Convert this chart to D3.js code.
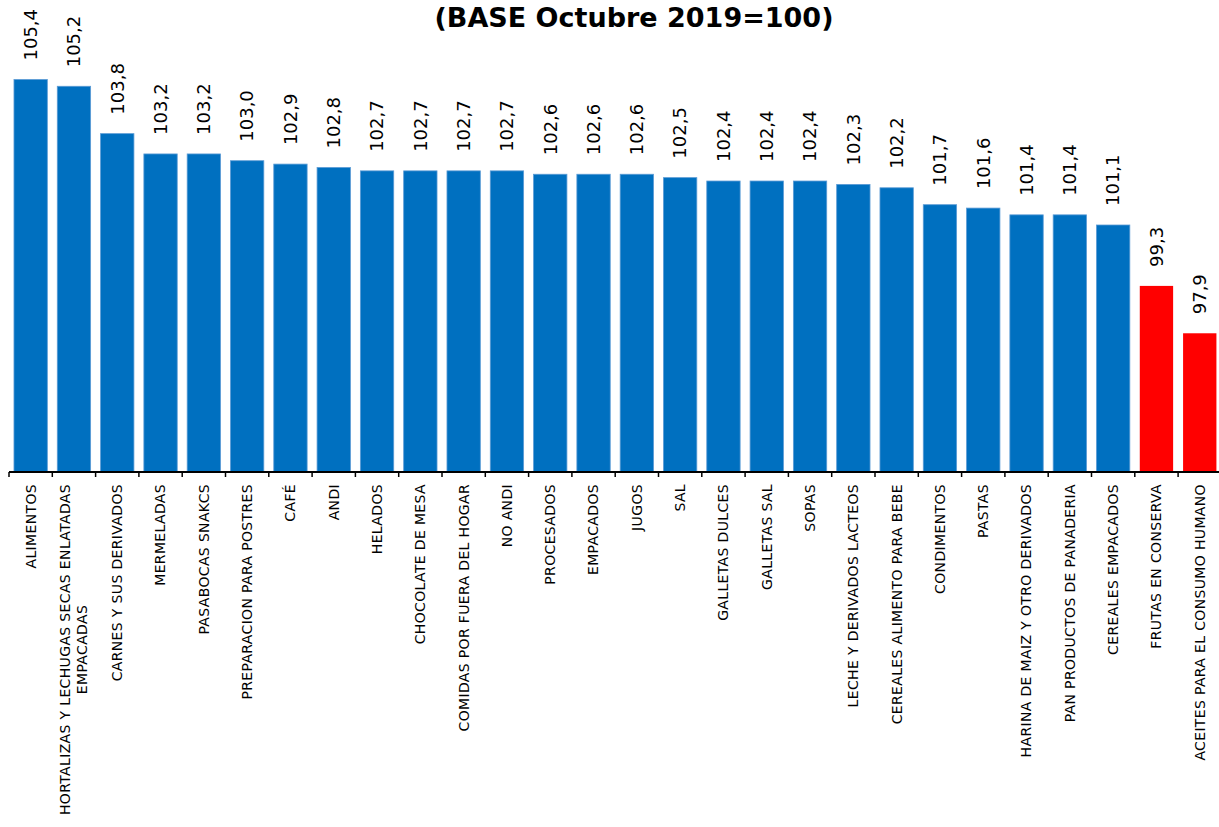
<!DOCTYPE html>
<html>
<head>
<meta charset="utf-8">
<script src="https://cdn.jsdelivr.net/npm/d3@7"></script>
<style>
  body { margin: 0; background: #fff; }
  svg { display: block; }
</style>
</head>
<body>
<div id="chart"></div>
<script>
const categories = [
  "ALIMENTOS",
  "HORTALIZAS Y LECHUGAS SECAS ENLATADAS\nEMPACADAS",
  "CARNES Y SUS DERIVADOS",
  "MERMELADAS",
  "PASABOCAS SNAKCS",
  "PREPARACION PARA POSTRES",
  "CAFÉ",
  "ANDI",
  "HELADOS",
  "CHOCOLATE DE MESA",
  "COMIDAS POR FUERA DEL HOGAR",
  "NO ANDI",
  "PROCESADOS",
  "EMPACADOS",
  "JUGOS",
  "SAL",
  "GALLETAS DULCES",
  "GALLETAS SAL",
  "SOPAS",
  "LECHE Y DERIVADOS LACTEOS",
  "CEREALES ALIMENTO PARA BEBE",
  "CONDIMENTOS",
  "PASTAS",
  "HARINA DE MAIZ Y OTRO DERIVADOS",
  "PAN PRODUCTOS DE PANADERIA",
  "CEREALES EMPACADOS",
  "FRUTAS EN CONSERVA",
  "ACEITES PARA EL CONSUMO HUMANO"
];
const values = [
  105.4, 105.2, 103.8, 103.2, 103.2, 103.0, 102.9, 102.8, 102.7, 102.7,
  102.7, 102.7, 102.6, 102.6, 102.6, 102.5, 102.4, 102.4, 102.4, 102.3,
  102.2, 101.7, 101.6, 101.4, 101.4, 101.1, 99.3, 97.9
];
const title = "(BASE Octubre 2019=100)";

const width = 1219, height = 827;
const baseY = 472;

const data = categories.map((c, i) => ({ name: c, value: values[i] }));

const svg = d3.select("#chart").append("svg")
  .attr("width", width)
  .attr("height", height);

const x = d3.scaleBand()
  .domain(categories)
  .range([9, 9 + 28 * 43.3])
  .paddingInner(0.23)
  .paddingOuter(0.115);

const y = d3.scaleLinear()
  .domain([93.8, 107.75])
  .range([baseY, 0]);

const fmt = v => d3.format(".1f")(v).replace(".", ",");

// bars
svg.selectAll("rect.bar")
  .data(data)
  .enter()
  .append("rect")
  .attr("class", "bar")
  .attr("x", d => x(d.name))
  .attr("y", d => y(d.value))
  .attr("width", x.bandwidth())
  .attr("height", d => baseY - y(d.value))
  .attr("fill", d => d.value < 100 ? "#FF0000" : "#0070C0")
  .attr("stroke", d => d.value < 100 ? "none" : "#5B9BD5")
  .attr("stroke-width", 0.8);

// value labels
svg.selectAll("text.val")
  .data(data)
  .enter()
  .append("text")
  .attr("class", "val")
  .attr("transform", d => "translate(" + (x(d.name) + x.bandwidth() / 2) + "," + (y(d.value) - 19) + ") rotate(-90)")
  .attr("dy", "0.35em")
  .attr("text-anchor", "start")
  .style("font-family", "'DejaVu Sans', sans-serif")
  .style("font-size", "18px")
  .style("fill", "#000")
  .text(d => fmt(d.value));

// axis line and ticks at band edges
svg.append("line")
  .attr("x1", x.range()[0])
  .attr("x2", width)
  .attr("y1", baseY)
  .attr("y2", baseY)
  .attr("stroke", "#000")
  .attr("stroke-width", 2);

svg.selectAll("line.tick")
  .data(d3.range(categories.length + 1))
  .enter()
  .append("line")
  .attr("class", "tick")
  .attr("x1", i => x.range()[0] + i * x.step())
  .attr("x2", i => x.range()[0] + i * x.step())
  .attr("y1", baseY)
  .attr("y2", baseY + 5)
  .attr("stroke", "#000")
  .attr("stroke-width", 1.5);

// category labels
const lab = svg.selectAll("g.lab")
  .data(data)
  .enter()
  .append("g")
  .attr("class", "lab")
  .attr("transform", d => "translate(" + (x(d.name) + x.bandwidth() / 2) + "," + (baseY + 12) + ") rotate(-90)");

lab.each(function(d) {
  const lines = d.name.split("\n");
  const g = d3.select(this);
  let firstLen = 0;
  lines.forEach((ln, j) => {
    const t = g.append("text")
      .attr("y", (j - (lines.length - 1) / 2) * 17)
      .attr("dy", "0.35em")
      .style("font-family", "'DejaVu Sans', sans-serif")
      .style("font-size", "14px")
      .style("letter-spacing", "0.35px")
      .style("fill", "#000")
      .text(ln);
    if (j === 0) {
      t.attr("text-anchor", "end");
      firstLen = t.node().getComputedTextLength();
    } else {
      t.attr("text-anchor", "middle").attr("x", -firstLen / 2);
    }
  });
});

// title
svg.append("text")
  .attr("x", 634)
  .attr("y", 27)
  .attr("text-anchor", "middle")
  .style("font-family", "'DejaVu Sans', sans-serif")
  .style("font-weight", "bold")
  .style("font-size", "27px")
  .style("fill", "#000")
  .text(title);
</script>
</body>
</html>
